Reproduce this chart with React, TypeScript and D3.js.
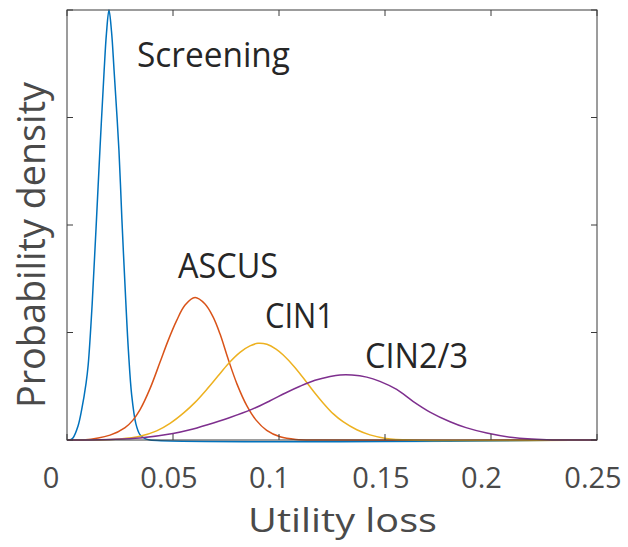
import React from "react";
import * as d3 from "d3";

const xTicks = [0, 0.05, 0.1, 0.15, 0.2, 0.25];
const xTickLabels = ["0", "0.05", "0.1", "0.15", "0.2", "0.25"];
const yTicks = [0, 20, 40, 60, 80];

const screening: [number, number][] = [
  [0, 0], [0.0014, 0], [0.0028, 0.37], [0.0052, 2.6], [0.0069, 5.6], [0.009, 10.6],
  [0.01, 14.0], [0.0119, 25.5], [0.0137, 39.4], [0.0156, 54.5], [0.0175, 68.6],
  [0.0186, 75.6], [0.0198, 80], [0.021, 76.0], [0.0222, 68.8], [0.0245, 53.9],
  [0.0259, 41], [0.0277, 26.0], [0.029, 16.4], [0.0305, 8.4], [0.0325, 3.0],
  [0.0344, 1.0], [0.0368, 0.25], [0.0392, 0], [0.25, 0],
];

const ascus: [number, number][] = [
  [0, 0], [0.0075, 0], [0.0203, 0.9], [0.0274, 2.3], [0.0311, 3.7], [0.0344, 5.6],
  [0.0392, 9.6], [0.0439, 14.5], [0.0476, 18.4], [0.0517, 22.2], [0.0557, 25.1],
  [0.0604, 26.5], [0.0651, 25.3], [0.0689, 22.9], [0.0722, 19.7], [0.0759, 15.2],
  [0.0802, 10.4], [0.0848, 6.4], [0.0892, 3.7], [0.0942, 1.8], [0.1005, 0.6],
  [0.108, 0.1], [0.1193, 0], [0.25, 0],
];

const cin1: [number, number][] = [
  [0, 0], [0.0156, 0], [0.025, 0.19], [0.0344, 0.7], [0.0423, 1.7], [0.0486, 3.1],
  [0.0549, 5.0], [0.0604, 7.0], [0.0659, 9.4], [0.0712, 11.9], [0.0761, 14.2],
  [0.0816, 16.3], [0.0863, 17.5], [0.0901, 18.0], [0.0943, 17.8], [0.0986, 16.9],
  [0.102, 15.8], [0.1075, 13.5], [0.1131, 10.7], [0.117, 8.7], [0.1208, 6.9],
  [0.1255, 4.9], [0.1302, 3.4], [0.1367, 1.9], [0.1429, 0.95], [0.1505, 0.3],
  [0.1618, 0], [0.25, 0],
];

const cin23: [number, number][] = [
  [0, 0], [0.0108, 0], [0.0203, 0.09], [0.0344, 0.37], [0.05, 1.2], [0.058, 1.9],
  [0.0659, 2.8], [0.0769, 4.2], [0.0871, 5.7], [0.0958, 7.3], [0.1033, 8.8],
  [0.1099, 10.0], [0.117, 11.1], [0.1241, 11.8], [0.1288, 12.1], [0.1344, 12.1],
  [0.1414, 11.7], [0.1476, 10.9], [0.1555, 9.4], [0.1632, 7.2], [0.1712, 5.2],
  [0.1807, 3.4], [0.1882, 2.3], [0.198, 1.3], [0.2104, 0.45], [0.2263, 0.05], [0.25, 0],
];

const seriesNames = ["Screening", "ASCUS", "CIN1", "CIN2/3"];
const seriesData = [screening, ascus, cin1, cin23];
const seriesColors = ["#0072BD", "#D95319", "#EDB120", "#7E2F8E"];
// label anchor points in data coordinates
const labelPos: [number, number][] = [
  [0.033, 69.4],
  [0.0524, 30.1],
  [0.0934, 20.8],
  [0.1406, 13.4],
];
const labelWidths = [153, 100, 69, 103];

const W = 628;
const H = 547;
const M = { left: 67, right: 31, top: 10, bottom: 107 };

export default function App() {
  const x = d3.scaleLinear().domain([0, 0.25]).range([M.left, W - M.right]);
  const y = d3.scaleLinear().domain([0, 80]).range([H - M.bottom, M.top]);
  const line = d3
    .line<[number, number]>()
    .x((d) => x(d[0]))
    .y((d) => y(d[1]))
    .curve(d3.curveCatmullRom.alpha(0.5));
  const font = "'Open Sans', 'Noto Sans', sans-serif";
  const axisColor = "#3a3a3a";
  const x0 = M.left;
  const x1 = W - M.right;
  const y0 = H - M.bottom;
  const y1 = M.top;
  const tl = 6;
  const tickDx = (s: string) => (s.length === 1 ? -16 : s.length === 3 ? -9.5 : -4);
  return (
    <svg
      width={W}
      height={H}
      style={{ position: "absolute", left: 0, top: 0, background: "#fff" }}
      fontFamily={font}
    >
      <rect x={0} y={0} width={W} height={H} fill="#fff" />
      {seriesData.map((d, i) => (
        <path key={i} d={line(d) || ""} fill="none" stroke={seriesColors[i]} strokeWidth={1.5} />
      ))}
      <rect x={x0} y={y1} width={x1 - x0} height={y0 - y1} fill="none" stroke={axisColor} strokeWidth={1} />
      {xTicks.map((t, i) => (
        <g key={"xt" + i}>
          <line x1={x(t)} x2={x(t)} y1={y0} y2={y0 - tl} stroke={axisColor} />
          <line x1={x(t)} x2={x(t)} y1={y1} y2={y1 + tl} stroke={axisColor} />
          <text
            x={x(t) + tickDx(xTickLabels[i])}
            y={488}
            textAnchor="middle"
            fontSize={29}
            fill="#4a4a4a"
          >
            {xTickLabels[i]}
          </text>
        </g>
      ))}
      {yTicks.map((t, i) => (
        <g key={"yt" + i}>
          <line x1={x0} x2={x0 + tl} y1={y(t)} y2={y(t)} stroke={axisColor} />
          <line x1={x1} x2={x1 - tl} y1={y(t)} y2={y(t)} stroke={axisColor} />
        </g>
      ))}
      {seriesNames.map((n, i) => (
        <text
          key={"lb" + i}
          x={x(labelPos[i][0])}
          y={y(labelPos[i][1])}
          fontSize={34}
          fill="#262626"
          textLength={labelWidths[i]}
          lengthAdjust="spacingAndGlyphs"
        >
          {n}
        </text>
      ))}
      <text
        x={248}
        y={532}
        fontSize={33}
        fill="#4a4a4a"
        textLength={189}
        lengthAdjust="spacingAndGlyphs"
      >
        Utility loss
      </text>
      <text
        transform={`translate(45,408) rotate(-90)`}
        fontSize={39}
        fill="#4a4a4a"
        textLength={326}
        lengthAdjust="spacingAndGlyphs"
      >
        Probability density
      </text>
    </svg>
  );
}
